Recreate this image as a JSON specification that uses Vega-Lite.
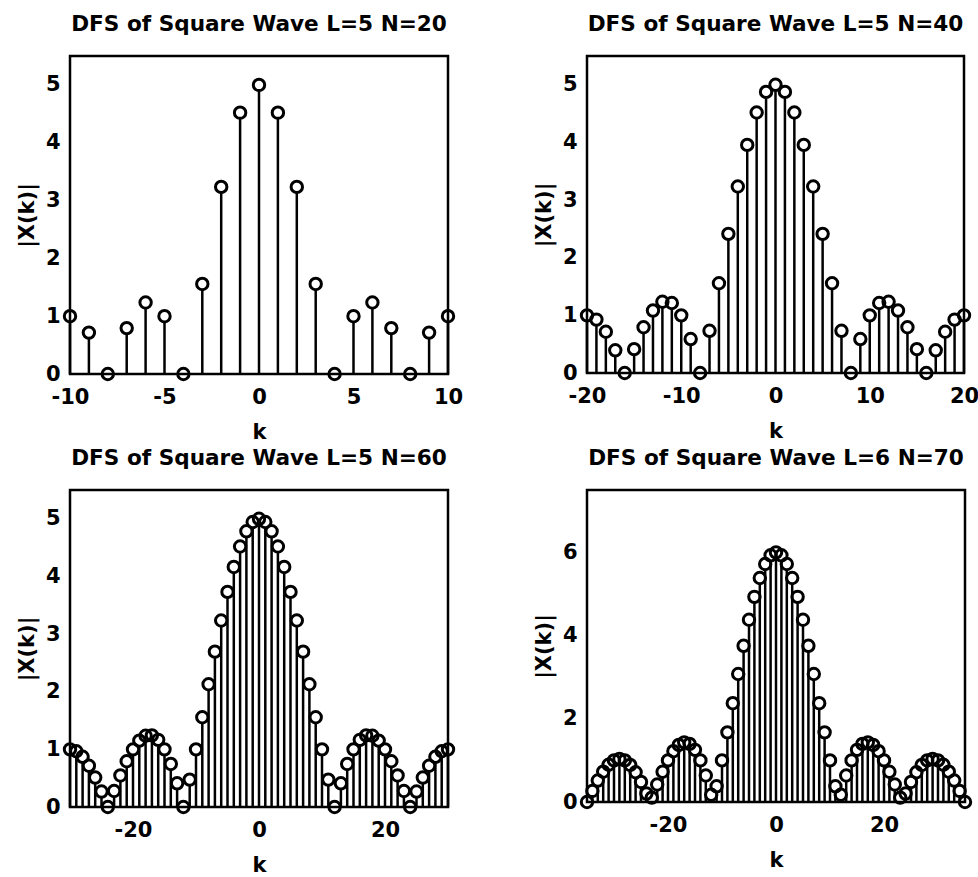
{
  "$schema": "https://vega.github.io/schema/vega-lite/v6.json",
  "background": "white",
  "padding": {"left": 15, "top": 13, "right": 5, "bottom": 5},
  "config": {
    "view": {"stroke": "black", "strokeWidth": 2.5},
    "axis": {
      "labelFont": "DejaVu Sans", "labelFontWeight": "bold", "labelFontSize": 21, "labelColor": "black",
      "titleFont": "DejaVu Sans", "titleFontWeight": "bold", "titleFontSize": 21, "titleColor": "black",
      "domain": false, "ticks": false, "grid": false, "labelOverlap": false, "format": "d",
      "labelExpr": "replace(datum.label, '\u2212', '-')"
    },
    "axisX": {"labelPadding": 12, "titlePadding": 14, "labelFlush": false},
    "axisY": {"labelPadding": 10, "titlePadding": 8},
    "title": {"font": "DejaVu Sans", "fontSize": 21.6, "fontWeight": "bold", "color": "black", "offset": 20}
  },
  "datasets": {
    "n20": [
      {"k": -10, "mag": 1}, {"k": -9, "mag": 0.7159}, {"k": -8, "mag": 0}, {"k": -7, "mag": 0.7936},
      {"k": -6, "mag": 1.2361}, {"k": -5, "mag": 1}, {"k": -4, "mag": 0}, {"k": -3, "mag": 1.5575},
      {"k": -2, "mag": 3.2361}, {"k": -1, "mag": 4.5201}, {"k": 0, "mag": 5}, {"k": 1, "mag": 4.5201},
      {"k": 2, "mag": 3.2361}, {"k": 3, "mag": 1.5575}, {"k": 4, "mag": 0}, {"k": 5, "mag": 1},
      {"k": 6, "mag": 1.2361}, {"k": 7, "mag": 0.7936}, {"k": 8, "mag": 0}, {"k": 9, "mag": 0.7159},
      {"k": 10, "mag": 1}
    ],
    "n40": [
      {"k": -20, "mag": 1}, {"k": -19, "mag": 0.9267}, {"k": -18, "mag": 0.7159}, {"k": -17, "mag": 0.3936},
      {"k": -16, "mag": 0}, {"k": -15, "mag": 0.4142}, {"k": -14, "mag": 0.7936}, {"k": -13, "mag": 1.0836},
      {"k": -12, "mag": 1.2361}, {"k": -11, "mag": 1.215}, {"k": -10, "mag": 1}, {"k": -9, "mag": 0.5892},
      {"k": -8, "mag": 0}, {"k": -7, "mag": 0.7324}, {"k": -6, "mag": 1.5575}, {"k": -5, "mag": 2.4142},
      {"k": -4, "mag": 3.2361}, {"k": -3, "mag": 3.9576}, {"k": -2, "mag": 4.5202}, {"k": -1, "mag": 4.8775},
      {"k": 0, "mag": 5},
      {"k": 1, "mag": 4.8775}, {"k": 2, "mag": 4.5202}, {"k": 3, "mag": 3.9576}, {"k": 4, "mag": 3.2361},
      {"k": 5, "mag": 2.4142}, {"k": 6, "mag": 1.5575}, {"k": 7, "mag": 0.7324}, {"k": 8, "mag": 0},
      {"k": 9, "mag": 0.5892}, {"k": 10, "mag": 1}, {"k": 11, "mag": 1.215}, {"k": 12, "mag": 1.2361},
      {"k": 13, "mag": 1.0836}, {"k": 14, "mag": 0.7936}, {"k": 15, "mag": 0.4142}, {"k": 16, "mag": 0},
      {"k": 17, "mag": 0.3936}, {"k": 18, "mag": 0.7159}, {"k": 19, "mag": 0.9267}, {"k": 20, "mag": 1}
    ],
    "n60": [
      {"k": -30, "mag": 1}, {"k": -29, "mag": 0.9673}, {"k": -28, "mag": 0.8708}, {"k": -27, "mag": 0.7159},
      {"k": -26, "mag": 0.5112}, {"k": -25, "mag": 0.268}, {"k": -24, "mag": 0}, {"k": -23, "mag": 0.2772},
      {"k": -22, "mag": 0.5473}, {"k": -21, "mag": 0.7936}, {"k": -20, "mag": 1}, {"k": -19, "mag": 1.1517},
      {"k": -18, "mag": 1.2361}, {"k": -17, "mag": 1.2429}, {"k": -16, "mag": 1.1654}, {"k": -15, "mag": 1},
      {"k": -14, "mag": 0.7472}, {"k": -13, "mag": 0.4113}, {"k": -12, "mag": 0}, {"k": -11, "mag": 0.4752},
      {"k": -10, "mag": 1}, {"k": -9, "mag": 1.5575}, {"k": -8, "mag": 2.1292}, {"k": -7, "mag": 2.6953},
      {"k": -6, "mag": 3.2361}, {"k": -5, "mag": 3.7321}, {"k": -4, "mag": 4.1653}, {"k": -3, "mag": 4.5201},
      {"k": -2, "mag": 4.7834}, {"k": -1, "mag": 4.9453}, {"k": 0, "mag": 5},
      {"k": 1, "mag": 4.9453}, {"k": 2, "mag": 4.7834}, {"k": 3, "mag": 4.5201}, {"k": 4, "mag": 4.1653},
      {"k": 5, "mag": 3.7321}, {"k": 6, "mag": 3.2361}, {"k": 7, "mag": 2.6953}, {"k": 8, "mag": 2.1292},
      {"k": 9, "mag": 1.5575}, {"k": 10, "mag": 1}, {"k": 11, "mag": 0.4752}, {"k": 12, "mag": 0},
      {"k": 13, "mag": 0.4113}, {"k": 14, "mag": 0.7472}, {"k": 15, "mag": 1}, {"k": 16, "mag": 1.1654},
      {"k": 17, "mag": 1.2429}, {"k": 18, "mag": 1.2361}, {"k": 19, "mag": 1.1517}, {"k": 20, "mag": 1},
      {"k": 21, "mag": 0.7936}, {"k": 22, "mag": 0.5473}, {"k": 23, "mag": 0.2772}, {"k": 24, "mag": 0},
      {"k": 25, "mag": 0.268}, {"k": 26, "mag": 0.5112}, {"k": 27, "mag": 0.7159}, {"k": 28, "mag": 0.8708},
      {"k": 29, "mag": 0.9673}, {"k": 30, "mag": 1}
    ],
    "n70": [
      {"k": -35, "mag": 0}, {"k": -34, "mag": 0.2663}, {"k": -33, "mag": 0.515}, {"k": -32, "mag": 0.7294},
      {"k": -31, "mag": 0.895}, {"k": -30, "mag": 1}, {"k": -29, "mag": 1.0363}, {"k": -28, "mag": 1},
      {"k": -27, "mag": 0.8914}, {"k": -26, "mag": 0.7155}, {"k": -25, "mag": 0.4816}, {"k": -24, "mag": 0.2028},
      {"k": -23, "mag": 0.1044}, {"k": -22, "mag": 0.421}, {"k": -21, "mag": 0.7265}, {"k": -20, "mag": 1},
      {"k": -19, "mag": 1.221}, {"k": -18, "mag": 1.371}, {"k": -17, "mag": 1.4339}, {"k": -16, "mag": 1.3976},
      {"k": -15, "mag": 1.254}, {"k": -14, "mag": 1}, {"k": -13, "mag": 0.6378}, {"k": -12, "mag": 0.1748},
      {"k": -11, "mag": 0.3768}, {"k": -10, "mag": 1}, {"k": -9, "mag": 1.674}, {"k": -8, "mag": 2.3752},
      {"k": -7, "mag": 3.0777}, {"k": -6, "mag": 3.7551}, {"k": -5, "mag": 4.3813}, {"k": -4, "mag": 4.9317},
      {"k": -3, "mag": 5.3846}, {"k": -2, "mag": 5.7218}, {"k": -1, "mag": 5.9297}, {"k": 0, "mag": 6},
      {"k": 1, "mag": 5.9297}, {"k": 2, "mag": 5.7218}, {"k": 3, "mag": 5.3846}, {"k": 4, "mag": 4.9317},
      {"k": 5, "mag": 4.3813}, {"k": 6, "mag": 3.7551}, {"k": 7, "mag": 3.0777}, {"k": 8, "mag": 2.3752},
      {"k": 9, "mag": 1.674}, {"k": 10, "mag": 1}, {"k": 11, "mag": 0.3768}, {"k": 12, "mag": 0.1748},
      {"k": 13, "mag": 0.6378}, {"k": 14, "mag": 1}, {"k": 15, "mag": 1.254}, {"k": 16, "mag": 1.3976},
      {"k": 17, "mag": 1.4339}, {"k": 18, "mag": 1.371}, {"k": 19, "mag": 1.221}, {"k": 20, "mag": 1},
      {"k": 21, "mag": 0.7265}, {"k": 22, "mag": 0.421}, {"k": 23, "mag": 0.1044}, {"k": 24, "mag": 0.2028},
      {"k": 25, "mag": 0.4816}, {"k": 26, "mag": 0.7155}, {"k": 27, "mag": 0.8914}, {"k": 28, "mag": 1},
      {"k": 29, "mag": 1.0363}, {"k": 30, "mag": 1}, {"k": 31, "mag": 0.895}, {"k": 32, "mag": 0.7294},
      {"k": 33, "mag": 0.515}, {"k": 34, "mag": 0.2663}, {"k": 35, "mag": 0}
    ]
  },
  "bounds": "flush",
  "columns": 2,
  "spacing": {"row": 116, "column": 139},
  "concat": [
    {
      "title": "DFS of Square Wave L=5 N=20",
      "width": 378, "height": 318,
      "data": {"name": "n20"},
      "layer": [
        {
          "transform": [{"filter": "datum.mag > 0.2"}],
          "mark": {"type": "rule", "color": "black", "strokeWidth": 2.5, "yOffset": 6},
          "encoding": {
            "x": {"field": "k", "type": "quantitative", "title": "k", "scale": {"domain": [-10, 10], "nice": false}, "axis": {"values": [-10, -5, 0, 5, 10]}},
            "y": {"field": "mag", "type": "quantitative", "title": "|X(k)|", "scale": {"domain": [0, 5.5], "nice": false}, "axis": {"values": [0, 1, 2, 3, 4, 5]}},
            "y2": {"datum": 0}
          }
        },
        {
          "mark": {"type": "point", "shape": "circle", "filled": false, "color": "black", "strokeWidth": 3, "size": 130, "opacity": 1},
          "encoding": {
            "x": {"field": "k", "type": "quantitative", "title": "k"},
            "y": {"field": "mag", "type": "quantitative", "title": "|X(k)|"}
          }
        }
      ]
    },
    {
      "title": "DFS of Square Wave L=5 N=40",
      "width": 377, "height": 317,
      "data": {"name": "n40"},
      "layer": [
        {
          "transform": [{"filter": "datum.mag > 0.2"}],
          "mark": {"type": "rule", "color": "black", "strokeWidth": 2.5, "yOffset": 6},
          "encoding": {
            "x": {"field": "k", "type": "quantitative", "title": "k", "scale": {"domain": [-20, 20], "nice": false}, "axis": {"values": [-20, -10, 0, 10, 20]}},
            "y": {"field": "mag", "type": "quantitative", "title": "|X(k)|", "scale": {"domain": [0, 5.5], "nice": false}, "axis": {"values": [0, 1, 2, 3, 4, 5]}},
            "y2": {"datum": 0}
          }
        },
        {
          "mark": {"type": "point", "shape": "circle", "filled": false, "color": "black", "strokeWidth": 3, "size": 130, "opacity": 1},
          "encoding": {
            "x": {"field": "k", "type": "quantitative", "title": "k"},
            "y": {"field": "mag", "type": "quantitative", "title": "|X(k)|"}
          }
        }
      ]
    },
    {
      "title": "DFS of Square Wave L=5 N=60",
      "width": 378, "height": 317,
      "data": {"name": "n60"},
      "layer": [
        {
          "transform": [{"filter": "datum.mag > 0.2"}],
          "mark": {"type": "rule", "color": "black", "strokeWidth": 2.5, "yOffset": 6},
          "encoding": {
            "x": {"field": "k", "type": "quantitative", "title": "k", "scale": {"domain": [-30, 30], "nice": false}, "axis": {"values": [-20, 0, 20]}},
            "y": {"field": "mag", "type": "quantitative", "title": "|X(k)|", "scale": {"domain": [0, 5.5], "nice": false}, "axis": {"values": [0, 1, 2, 3, 4, 5]}},
            "y2": {"datum": 0}
          }
        },
        {
          "mark": {"type": "point", "shape": "circle", "filled": false, "color": "black", "strokeWidth": 3, "size": 130, "opacity": 1},
          "encoding": {
            "x": {"field": "k", "type": "quantitative", "title": "k"},
            "y": {"field": "mag", "type": "quantitative", "title": "|X(k)|"}
          }
        }
      ]
    },
    {
      "title": "DFS of Square Wave L=6 N=70",
      "width": 378, "height": 312,
      "data": {"name": "n70"},
      "layer": [
        {
          "transform": [{"filter": "datum.mag > 0.2"}],
          "mark": {"type": "rule", "color": "black", "strokeWidth": 2.5, "yOffset": 6},
          "encoding": {
            "x": {"field": "k", "type": "quantitative", "title": "k", "scale": {"domain": [-35, 35], "nice": false}, "axis": {"values": [-20, 0, 20]}},
            "y": {"field": "mag", "type": "quantitative", "title": "|X(k)|", "scale": {"domain": [0, 7.5], "nice": false}, "axis": {"values": [0, 2, 4, 6]}},
            "y2": {"datum": 0}
          }
        },
        {
          "mark": {"type": "point", "shape": "circle", "filled": false, "color": "black", "strokeWidth": 3, "size": 130, "opacity": 1},
          "encoding": {
            "x": {"field": "k", "type": "quantitative", "title": "k"},
            "y": {"field": "mag", "type": "quantitative", "title": "|X(k)|"}
          }
        }
      ]
    }
  ]
}
